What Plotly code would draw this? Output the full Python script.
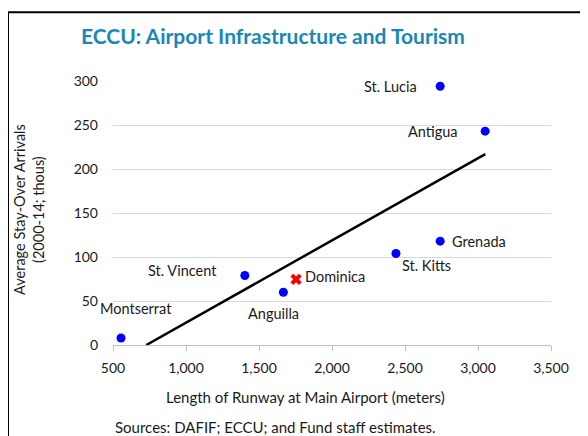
import plotly.graph_objects as go

# Data
countries = ["St. Lucia", "Antigua", "Grenada", "St. Kitts", "St. Vincent", "Anguilla", "Montserrat"]
runway_m = [2741, 3049, 2741, 2438, 1403, 1667, 555]
arrivals_k = [294, 243, 118, 104, 79, 60, 8]

dominica_name = "Dominica"
dominica_runway = [1754]
dominica_arrivals = [74.6]

trend_x = [728, 3050]
trend_y = [0, 217]

x_ticks = [500, 1000, 1500, 2000, 2500, 3000, 3500]
y_ticks = [0, 50, 100, 150, 200, 250, 300]

FONT = "Lato"
TXT = "#1a1a1a"
LBL = 14.5

fig = go.Figure()
fig.add_trace(go.Scatter(x=trend_x, y=trend_y, mode="lines",
                         line=dict(color="black", width=2.5), hoverinfo="skip"))
fig.add_trace(go.Scatter(x=runway_m, y=arrivals_k, mode="markers",
                         marker=dict(color="#0000FF", size=9, line=dict(width=0)),
                         text=countries))
fig.add_trace(go.Scatter(x=dominica_runway, y=dominica_arrivals, mode="markers",
                         marker=dict(color="#FF0000", size=10, symbol="x", line=dict(width=0)),
                         text=[dominica_name]))

# label offsets (pixels) per label
label_style = {
    "St. Lucia": ("right", -21, 0),
    "Antigua": ("right", -25, 0),
    "Grenada": ("left", 10, 0),
    "St. Kitts": ("left", 4, -12),
    "St. Vincent": ("right", -26, 5),
    "Anguilla": ("center", -10, -21),
    "Montserrat": ("center", 15, 29),
}
annotations = []
for name, xv, yv in zip(countries, runway_m, arrivals_k):
    anc, dx, dy = label_style[name]
    annotations.append(dict(x=xv, y=yv, xref="x", yref="y", text=name, showarrow=False,
                            xanchor=anc, yanchor="middle", xshift=dx, yshift=dy,
                            font=dict(family=FONT, size=LBL, color=TXT)))
annotations.append(dict(x=dominica_runway[0], y=dominica_arrivals[0], xref="x", yref="y",
                        text=dominica_name, showarrow=False, xanchor="left", yanchor="middle",
                        xshift=7, yshift=3, font=dict(family=FONT, size=LBL, color=TXT)))

annotations += [
    dict(text="<b>ECCU: Airport Infrastructure and Tourism</b>", xref="paper", yref="paper",
         x=-0.0776, y=1.173, xanchor="left", yanchor="middle", showarrow=False,
         font=dict(family=FONT, size=21, color="#1A87B7")),
    dict(text="Average Stay-Over Arrivals<br>(2000-14; thous)", xref="paper", yref="paper",
         x=-0.192, y=0.515, xanchor="center", yanchor="middle", textangle=-90, showarrow=False,
         font=dict(family=FONT, size=14.5, color=TXT)),
    dict(text="Length of Runway at Main Airport (meters)", xref="paper", yref="paper",
         x=0.44, y=-0.196, xanchor="center", yanchor="middle", showarrow=False,
         font=dict(family=FONT, size=15, color=TXT)),
    dict(text="Sources: DAFIF; ECCU; and Fund staff estimates.", xref="paper", yref="paper",
         x=0.37, y=-0.309, xanchor="center", yanchor="middle", showarrow=False,
         font=dict(family=FONT, size=15, color=TXT)),
]

# The page places the figure 8px in from the top-left corner, so the figure is 8px smaller
fig.update_layout(
    width=580, height=428,
    margin=dict(l=105, r=37, t=73, b=91),
    paper_bgcolor="white", plot_bgcolor="white",
    showlegend=False,
    font=dict(family=FONT, size=14, color=TXT),
    annotations=annotations,
    shapes=[dict(type="rect", xref="paper", yref="paper", x0=-0.2397, x1=1.3, y0=-0.6, y1=1.26,
                 line=dict(color="black", width=2), fillcolor="rgba(0,0,0,0)", layer="above")],
)
fig.update_xaxes(range=[500, 3500], tickvals=x_ticks, tickformat=",d",
                 showgrid=False, zeroline=False, showline=True, linecolor="#BFBFBF", linewidth=1,
                 ticks="outside", ticklen=5, tickcolor="#BFBFBF", ticklabelstandoff=5,
                 tickfont=dict(family=FONT, size=14, color=TXT))
fig.update_yaxes(range=[0, 300], tickvals=y_ticks, showgrid=True, gridcolor="#D9D9D9", gridwidth=1,
                 zeroline=False, showline=False, ticks="", ticklabelstandoff=14,
                 tickfont=dict(family=FONT, size=14, color=TXT))

fig.write_html("out.html")
